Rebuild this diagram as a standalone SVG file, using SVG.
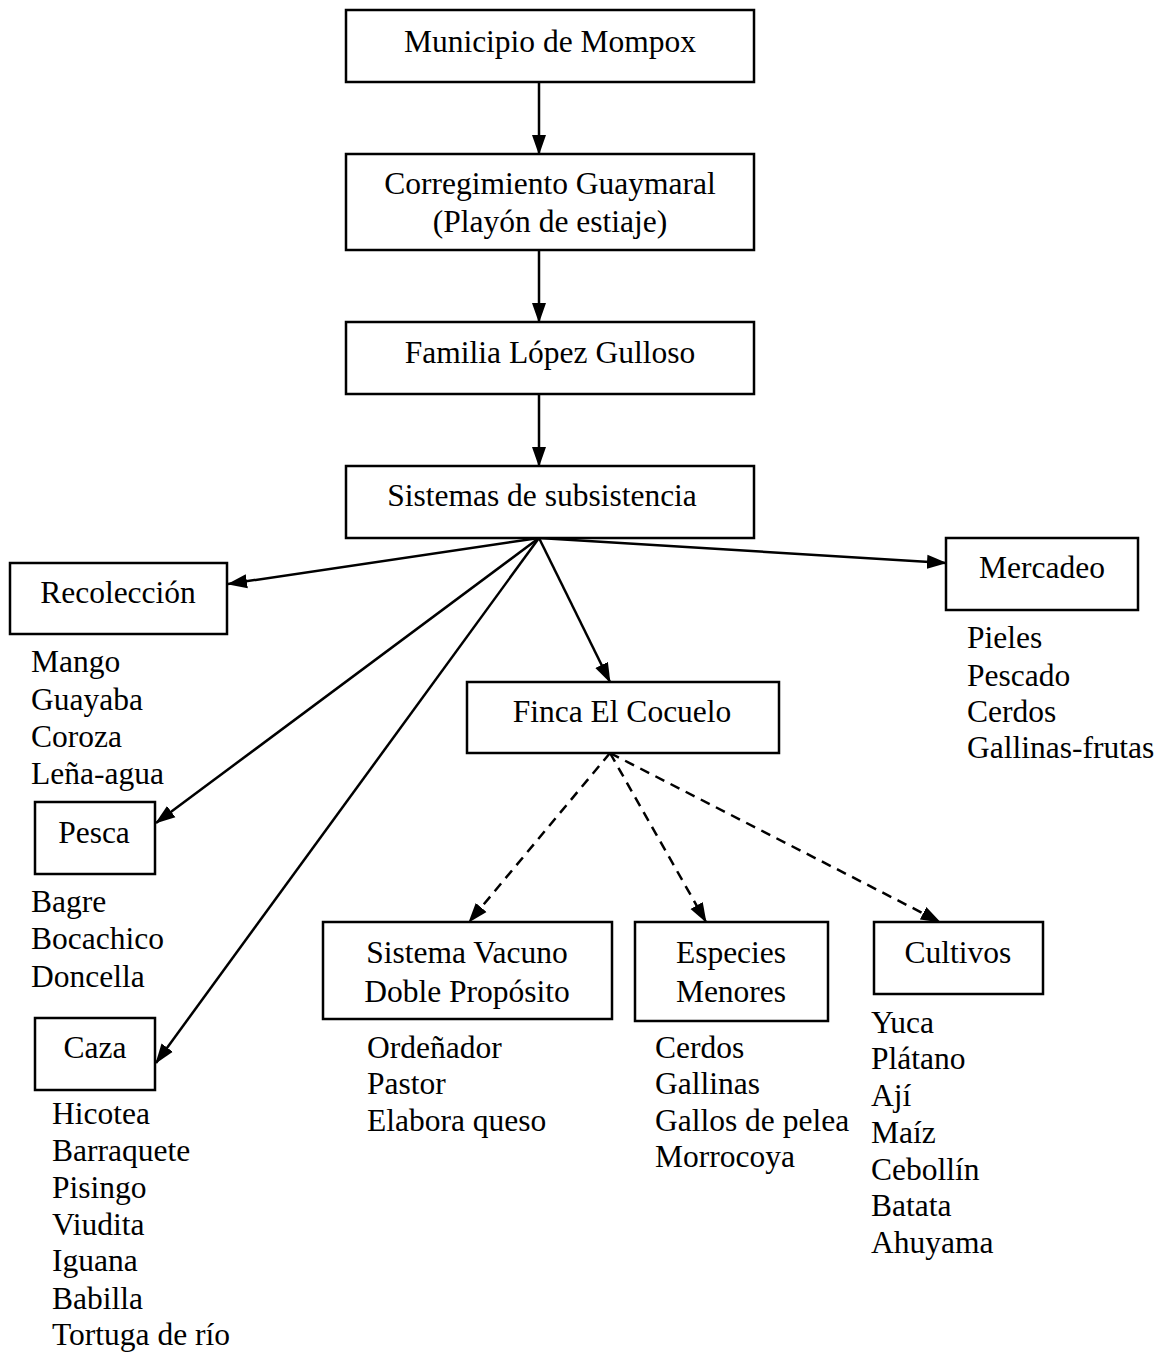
<svg xmlns="http://www.w3.org/2000/svg" width="1162" height="1352" viewBox="0 0 1162 1352">
<defs>
<marker id="ah" markerUnits="userSpaceOnUse" markerWidth="20" markerHeight="16" refX="19" refY="8" orient="auto">
<path d="M0,1 L20,8 L0,15 z" fill="#000"/>
</marker>
</defs>
<style>
.b{fill:#fff;stroke:#000;stroke-width:2.5}
text{font-family:"Liberation Serif","Times New Roman",serif;font-size:31.5px;fill:#000}
.c{text-anchor:middle}
.ln{stroke:#000;stroke-width:2.5;fill:none;marker-end:url(#ah)}
.d{stroke-dasharray:10 7}
</style>
<rect x="0" y="0" width="1162" height="1352" fill="#fff"/>
<g id="connectors">
<line class="ln" x1="539" y1="82" x2="539" y2="154"/>
<line class="ln" x1="539" y1="250" x2="539" y2="322"/>
<line class="ln" x1="539" y1="394" x2="539" y2="466"/>
<line class="ln" x1="539" y1="538" x2="228" y2="584"/>
<line class="ln" x1="539" y1="538" x2="156" y2="823"/>
<line class="ln" x1="539" y1="538" x2="156" y2="1063"/>
<line class="ln" x1="539" y1="538" x2="610" y2="682"/>
<line class="ln" x1="539" y1="538" x2="946" y2="563"/>
<line class="ln d" x1="610" y1="753" x2="469" y2="922"/>
<line class="ln d" x1="610" y1="753" x2="706" y2="922"/>
<line class="ln d" x1="610" y1="753" x2="940" y2="922"/>
</g>
<g id="municipio"><rect class="b" x="346" y="10" width="408" height="72"/><text class="c" x="550" y="52">Municipio de Mompox</text></g>
<g id="corregimiento"><rect class="b" x="346" y="154" width="408" height="96"/><text class="c" x="550" y="194">Corregimiento Guaymaral</text><text class="c" x="550" y="232">(Playón de estiaje)</text></g>
<g id="familia"><rect class="b" x="346" y="322" width="408" height="72"/><text class="c" x="550" y="363">Familia López Gulloso</text></g>
<g id="sistemas"><rect class="b" x="346" y="466" width="408" height="72"/><text class="c" x="542" y="506">Sistemas de subsistencia</text></g>
<g id="recoleccion"><rect class="b" x="10" y="563" width="217" height="71"/><text class="c" x="118" y="603">Recolección</text>
<text x="31" y="672">Mango</text><text x="31" y="710">Guayaba</text><text x="31" y="747">Coroza</text><text x="31" y="784">Leña-agua</text></g>
<g id="pesca"><rect class="b" x="35" y="802" width="120" height="72"/><text class="c" x="94" y="843">Pesca</text>
<text x="31" y="912">Bagre</text><text x="31" y="949">Bocachico</text><text x="31" y="987">Doncella</text></g>
<g id="caza"><rect class="b" x="35" y="1018" width="120" height="72"/><text class="c" x="95" y="1058">Caza</text>
<text x="52" y="1124">Hicotea</text><text x="52" y="1161">Barraquete</text><text x="52" y="1198">Pisingo</text><text x="52" y="1235">Viudita</text><text x="52" y="1271">Iguana</text><text x="52" y="1309">Babilla</text><text x="52" y="1345">Tortuga de río</text></g>
<g id="finca"><rect class="b" x="467" y="682" width="312" height="71"/><text class="c" x="622" y="722">Finca El Cocuelo</text></g>
<g id="mercadeo"><rect class="b" x="946" y="538" width="192" height="72"/><text class="c" x="1042" y="578">Mercadeo</text>
<text x="967" y="648">Pieles</text><text x="967" y="686">Pescado</text><text x="967" y="722">Cerdos</text><text x="967" y="758">Gallinas-frutas</text></g>
<g id="vacuno"><rect class="b" x="323" y="922" width="289" height="97"/><text class="c" x="467" y="963">Sistema Vacuno</text><text class="c" x="467" y="1002">Doble Propósito</text>
<text x="367" y="1058">Ordeñador</text><text x="367" y="1094">Pastor</text><text x="367" y="1131">Elabora queso</text></g>
<g id="especies"><rect class="b" x="635" y="922" width="193" height="99"/><text class="c" x="731" y="963">Especies</text><text class="c" x="731" y="1002">Menores</text>
<text x="655" y="1058">Cerdos</text><text x="655" y="1094">Gallinas</text><text x="655" y="1131">Gallos de pelea</text><text x="655" y="1167">Morrocoya</text></g>
<g id="cultivos"><rect class="b" x="874" y="922" width="169" height="72"/><text class="c" x="958" y="963">Cultivos</text>
<text x="871" y="1033">Yuca</text><text x="871" y="1069">Plátano</text><text x="871" y="1106">Ají</text><text x="871" y="1143">Maíz</text><text x="871" y="1180">Cebollín</text><text x="871" y="1216">Batata</text><text x="871" y="1253">Ahuyama</text></g>
</svg>
